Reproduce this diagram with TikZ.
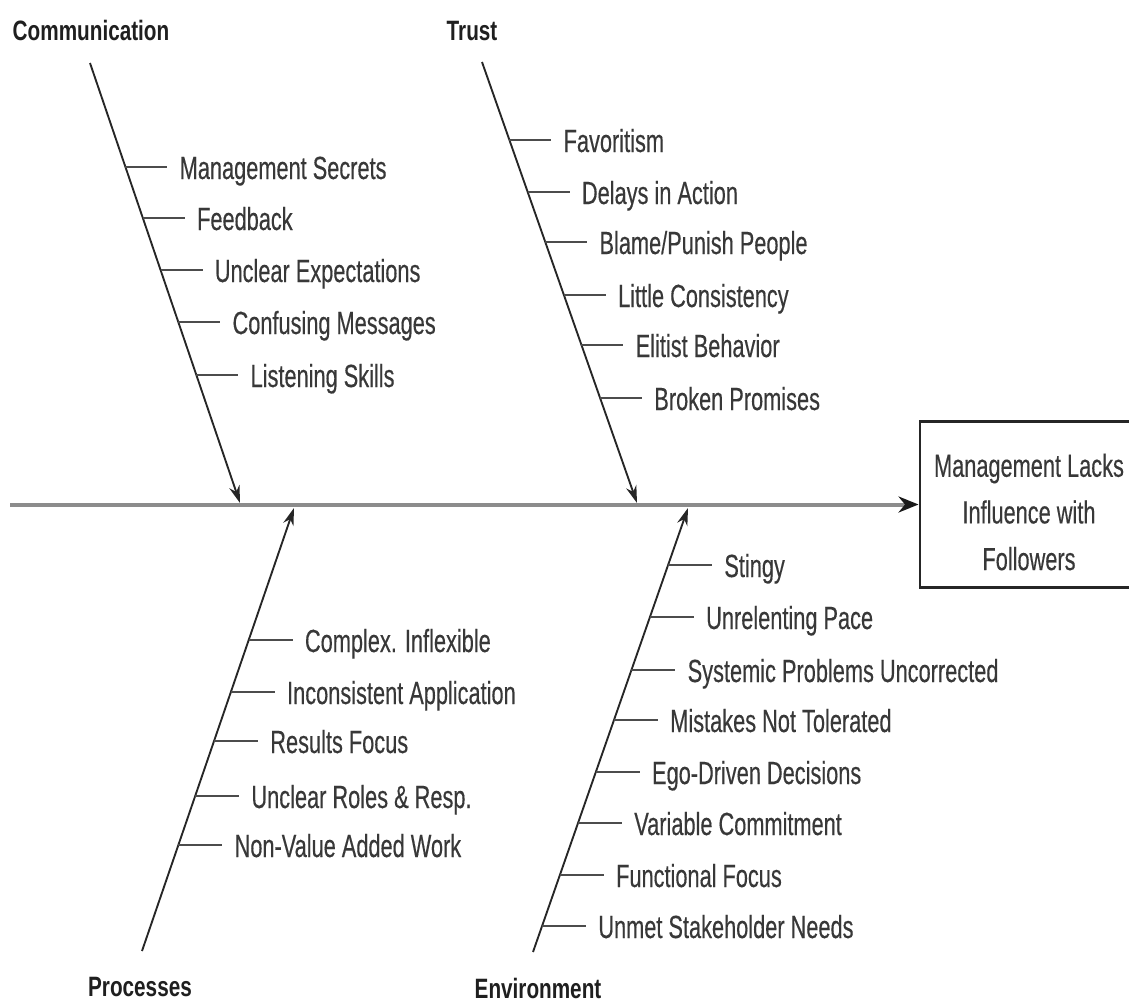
\documentclass[tikz,border=0pt]{standalone}
\usepackage{fontspec}
\setmainfont{Liberation Sans}[FakeStretch=0.68,FakeBold=0.3]
\newfontfamily\lblfont{Liberation Sans}[FakeStretch=0.74]
\usetikzlibrary{arrows.meta,calc}
\begin{document}
\begin{tikzpicture}[x=0.75pt,y=-0.75pt,
  txt/.style={font=\fontsize{24}{28}\selectfont, text=black!78, inner sep=0pt, anchor=base west},
  cat/.style={font=\lblfont\bfseries\fontsize{21}{25}\selectfont, text=black!88, inner sep=0pt},
  bone/.style={draw=black!85, line width=1.4pt, -{Stealth[length=13pt,width=8pt]}},
  ribl/.style={draw=black!70, line width=1.3pt},
  spine/.style={draw=black!45, line width=3pt, -{Stealth[length=15pt,width=12pt,color=black!90]}},
  effect/.style={draw=black!85, line width=2.2pt, minimum width=165pt, minimum height=125pt, inner sep=0pt},
  efftxt/.style={font=\fontsize{24}{35}\selectfont, text=black!78, align=center, inner sep=0pt}]
\fill[white] (0,0) rectangle (1129,1007);
\useasboundingbox (0,0) rectangle (1129,1007);

% effect box and spine
\node[effect] (eff) at (1030,504.5) {};
\node[efftxt] (efft) at (1029,512) {Management Lacks\\Influence with\\Followers};
\coordinate (spS) at (10,504.5);
\draw[spine] (spS) -- (eff.west);

% category labels
\node[cat] (comm) at (91,30) {Communication};
\node[cat] (trust) at (472,31) {Trust};
\node[cat] (proc) at (140,987) {Processes};
\node[cat] (env) at (538,988) {Environment};

% bones
\coordinate (commS) at (90,63);   \coordinate (commT) at (240,503);
\coordinate (trustS) at (482,62); \coordinate (trustT) at (637,503);
\coordinate (procS) at (142,951); \coordinate (procT) at (294,508);
\coordinate (envS) at (533,952);  \coordinate (envT) at (688,508);
\draw[bone] (commS) -- (commT);
\draw[bone] (trustS) -- (trustT);
\draw[bone] (procS) -- (procT);
\draw[bone] (envS) -- (envT);

% Communication ribs
\foreach \y/\t [count=\i] in {167/{Management Secrets},218/{Feedback},270/{Unclear Expectations},322/{Confusing Messages},375/{Listening Skills}}{
  \pgfmathsetmacro\bx{240-0.3409*(503-\y)}
  \coordinate (cb\i) at (\bx,\y);
  \node[txt] (ct\i) at (\bx+54,\y+12) {\t};
  \draw[ribl] (cb\i) -- ([xshift=-9pt]ct\i.west |- cb\i);
}
% Trust ribs
\foreach \y/\t [count=\i] in {140/{Favoritism},192/{Delays in Action},242/{Blame/Punish People},295/{Little Consistency},345/{Elitist Behavior},398/{Broken Promises}}{
  \pgfmathsetmacro\bx{637-0.3515*(503-\y)}
  \coordinate (tb\i) at (\bx,\y);
  \node[txt] (tt\i) at (\bx+54,\y+12) {\t};
  \draw[ribl] (tb\i) -- ([xshift=-9pt]tt\i.west |- tb\i);
}
% Processes ribs
\foreach \y/\t [count=\i] in {640/{Complex. Inflexible},692/{Inconsistent Application},741/{Results Focus},796/{Unclear Roles \& Resp.},845/{Non-Value Added Work}}{
  \pgfmathsetmacro\bx{294-0.3431*(\y-508)}
  \coordinate (pb\i) at (\bx,\y);
  \node[txt] (pt\i) at (\bx+56,\y+12) {\t};
  \draw[ribl] (pb\i) -- ([xshift=-9pt]pt\i.west |- pb\i);
}
% Environment ribs
\foreach \y/\t [count=\i] in {565/{Stingy},617/{Unrelenting Pace},670/{Systemic Problems Uncorrected},720/{Mistakes Not Tolerated},772/{Ego-Driven Decisions},823/{Variable Commitment},875/{Functional Focus},926/{Unmet Stakeholder Needs}}{
  \pgfmathsetmacro\bx{688-0.3491*(\y-508)}
  \coordinate (eb\i) at (\bx,\y);
  \node[txt] (et\i) at (\bx+56,\y+12) {\t};
  \draw[ribl] (eb\i) -- ([xshift=-9pt]et\i.west |- eb\i);
}
\end{tikzpicture}
\end{document}
